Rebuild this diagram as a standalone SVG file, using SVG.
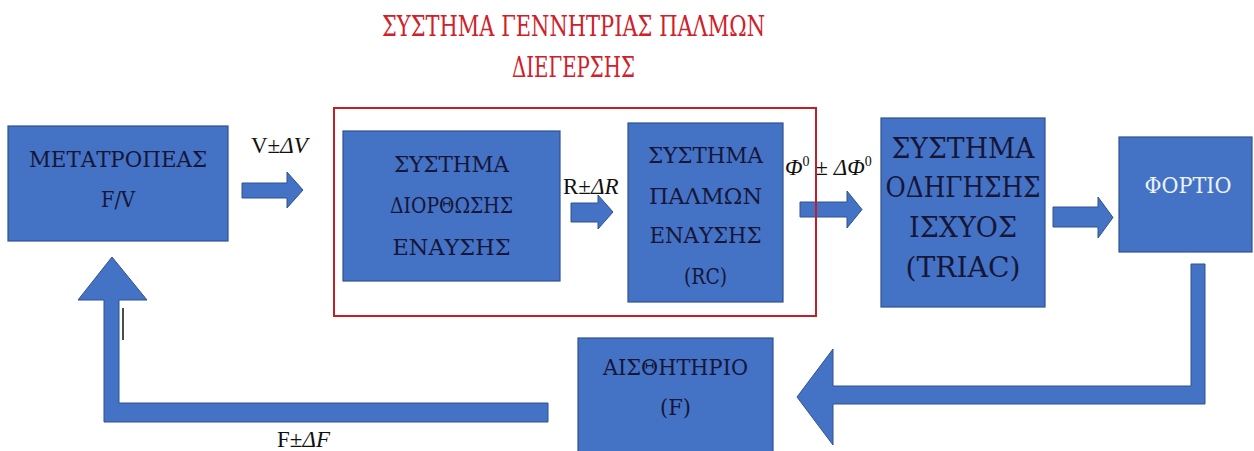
<svg xmlns="http://www.w3.org/2000/svg" width="1254" height="451" viewBox="0 0 1254 451">
  <style>
    .box { fill: #4472c4; stroke: #2f528f; stroke-width: 1.2; }
    .arrow { fill: #4472c4; stroke: #2f528f; stroke-width: 1; }
    .lbl { font-family: "DejaVu Serif", "Liberation Serif", serif; font-size: 23px; fill: #16163a; text-anchor: middle; }
    .lbl-lg { font-size: 27px; }
    .lbl-light { fill: #eef2fa; }
    .title { font-family: "DejaVu Serif", "Liberation Serif", serif; font-size: 27px; fill: #d0202a; text-anchor: middle; }
    .math { font-family: "Liberation Serif", "DejaVu Serif", serif; font-size: 23px; fill: #111; }
    .it { font-style: italic; }
  </style>

  <!-- connectors: block arrows between stages and the feedback path -->
  <g id="connectors">
    <path id="a-fv-to-corr" class="arrow" d="M242,183 H287 V172 L303,190 L287,208 V198 H242 Z"/>
    <path id="a-corr-to-pulse" class="arrow" d="M571,203 H598 V195 L613,212 L598,229 V222 H571 Z"/>
    <path id="a-pulse-to-triac" class="arrow" d="M800,202 H847 V191 L862,209.5 L847,228 V217 H800 Z"/>
    <path id="a-triac-to-load" class="arrow" d="M1053,207 H1098 V197 L1113,217.5 L1098,238 V227 H1053 Z"/>
    <path id="a-load-to-sensor" class="arrow" d="M1191,264 H1205 V404 H833 V445 L797,397 L833,349 V386 H1191 Z"/>
    <path id="a-sensor-to-fv" class="arrow" d="M548,403 V422 H104 V300 H78 L112,257 L147,300 H119 V403 Z"/>
    <line x1="123" y1="308" x2="123" y2="340" stroke="#111" stroke-width="1.5"/>
  </g>

  <!-- signal labels -->
  <g id="signal-labels">
    <text class="math" x="251" y="153">V±<tspan class="it">ΔV</tspan></text>
    <text class="math" x="563" y="194">R±<tspan class="it">ΔR</tspan></text>
    <text class="math" x="785" y="175"><tspan class="it">Φ</tspan><tspan font-size="14" dy="-9">0</tspan><tspan dy="9"> ± </tspan><tspan class="it">ΔΦ</tspan><tspan font-size="14" dy="-9">0</tspan></text>
    <text class="math" x="277" y="447">F±<tspan class="it">ΔF</tspan></text>
  </g>

  <g id="node-fv-converter">
    <rect class="box" x="8" y="126" width="220" height="115"/>
    <text class="lbl" x="118" y="167" textLength="178" lengthAdjust="spacingAndGlyphs">ΜΕΤΑΤΡΟΠΕΑΣ</text>
    <text class="lbl" x="118" y="207" textLength="34" lengthAdjust="spacingAndGlyphs">F/V</text>
  </g>

  <g id="node-correction">
    <rect class="box" x="343" y="131" width="217" height="150"/>
    <text class="lbl" x="451.5" y="172" textLength="115" lengthAdjust="spacingAndGlyphs">ΣΥΣΤΗΜΑ</text>
    <text class="lbl" x="451.5" y="213" textLength="123" lengthAdjust="spacingAndGlyphs">ΔΙΟΡΘΩΣΗΣ</text>
    <text class="lbl" x="451.5" y="255" textLength="118" lengthAdjust="spacingAndGlyphs">ΕΝΑΥΣΗΣ</text>
  </g>

  <g id="node-pulse-rc">
    <rect class="box" x="628" y="123" width="155" height="179"/>
    <text class="lbl" x="705.5" y="163" textLength="115" lengthAdjust="spacingAndGlyphs">ΣΥΣΤΗΜΑ</text>
    <text class="lbl" x="705.5" y="204" textLength="113" lengthAdjust="spacingAndGlyphs">ΠΑΛΜΩΝ</text>
    <text class="lbl" x="705.5" y="243" textLength="112" lengthAdjust="spacingAndGlyphs">ΕΝΑΥΣΗΣ</text>
    <text class="lbl" x="705.5" y="284" textLength="43" lengthAdjust="spacingAndGlyphs">(RC)</text>
  </g>

  <g id="node-triac">
    <rect class="box" x="881" y="118" width="164" height="189"/>
    <text class="lbl lbl-lg" x="963" y="158" textLength="143" lengthAdjust="spacingAndGlyphs">ΣΥΣΤΗΜΑ</text>
    <text class="lbl lbl-lg" x="963" y="197" textLength="155" lengthAdjust="spacingAndGlyphs">ΟΔΗΓΗΣΗΣ</text>
    <text class="lbl lbl-lg" x="963" y="237" textLength="108" lengthAdjust="spacingAndGlyphs">ΙΣΧΥΟΣ</text>
    <text class="lbl lbl-lg" x="963" y="277" textLength="115" lengthAdjust="spacingAndGlyphs">(TRIAC)</text>
  </g>

  <g id="node-load">
    <rect class="box" x="1119" y="137" width="133" height="115"/>
    <text class="lbl lbl-light" x="1188" y="193" textLength="87" lengthAdjust="spacingAndGlyphs">ΦΟΡΤΙΟ</text>
  </g>

  <g id="node-sensor">
    <rect class="box" x="578" y="338" width="195" height="125"/>
    <text class="lbl" x="675.5" y="375" textLength="145" lengthAdjust="spacingAndGlyphs">ΑΙΣΘΗΤΗΡΙΟ</text>
    <text class="lbl" x="675.5" y="415" textLength="31" lengthAdjust="spacingAndGlyphs">(F)</text>
  </g>

  <!-- excitation pulse generator subsystem frame -->
  <g id="group-pulse-generator">
    <rect x="334" y="108" width="482" height="208" fill="none" stroke="#c0202a" stroke-width="2"/>
    <text class="title" x="573.5" y="36" textLength="383" lengthAdjust="spacingAndGlyphs">ΣΥΣΤΗΜΑ ΓΕΝΝΗΤΡΙΑΣ ΠΑΛΜΩΝ</text>
    <text class="title" x="573.5" y="77" textLength="123" lengthAdjust="spacingAndGlyphs">ΔΙΕΓΕΡΣΗΣ</text>
  </g>
</svg>
